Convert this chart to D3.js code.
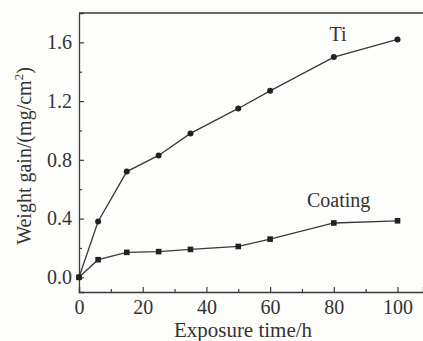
<!DOCTYPE html>
<html><head><meta charset="utf-8">
<script src="https://cdn.jsdelivr.net/npm/d3@7/dist/d3.min.js"></script>
<style>body{margin:0;background:#fdfdfc}svg{display:block}text{font-family:"Liberation Serif",serif}</style>
</head><body><svg id="c" width="423" height="341"></svg>
<script>
const hours = [0, 6, 15, 25, 35, 50, 60, 80, 100];
const tiGain = [0, 0.38, 0.72, 0.83, 0.98, 1.15, 1.27, 1.50, 1.62];
const coatingGain = [0, 0.12, 0.17, 0.175, 0.19, 0.21, 0.26, 0.37, 0.385];
const xTicks = [0, 20, 40, 60, 80, 100];
const yTicks = [0.0, 0.4, 0.8, 1.2, 1.6];
const yTickLabels = ["0.0", "0.4", "0.8", "1.2", "1.6"];

const svg = d3.select("#c");
const ink = "#3a3a3a", txt = "#333";
const fs = "20px";
const x = d3.scaleLinear().domain([0, 108]).range([79, 423]);
const y = d3.scaleLinear().domain([-0.1, 1.8]).range([292, 13]);

svg.append("line").attr("x1", 79).attr("x2", 423).attr("y1", 13).attr("y2", 13).attr("stroke", ink).attr("stroke-width", 1.3);

const xAxis = svg.append("g").attr("transform", "translate(0,292)")
  .call(d3.axisBottom(x).tickValues(xTicks).tickSize(-5).tickPadding(8).tickFormat(d3.format("d")));
const xMinor = svg.append("g").attr("transform", "translate(0,292)")
  .call(d3.axisBottom(x).tickValues([10, 30, 50, 70, 90]).tickSize(-3).tickFormat(""));
const yAxis = svg.append("g").attr("transform", "translate(79,0)")
  .call(d3.axisLeft(y).tickValues(yTicks).tickSize(-5).tickPadding(7).tickFormat((d, i) => yTickLabels[i]));
const yMinor = svg.append("g").attr("transform", "translate(79,0)")
  .call(d3.axisLeft(y).tickValues([0.2, 0.6, 1.0, 1.4]).tickSize(-3).tickFormat(""));
[xAxis, xMinor, yAxis, yMinor].forEach(g => {
  g.attr("font-family", null).attr("font-size", null);
  g.select(".domain").attr("stroke", ink).attr("stroke-width", 1.3);
  g.selectAll(".tick line").attr("stroke", ink).attr("stroke-width", 1.2);
  g.selectAll("text").attr("fill", txt).style("font-size", fs);
});
xMinor.select(".domain").remove();
yMinor.select(".domain").remove();

const line = d3.line().x(d => x(d[0])).y(d => y(d[1]));
const tiPts = hours.map((h, i) => [h, tiGain[i]]);
const coPts = hours.map((h, i) => [h, coatingGain[i]]);

svg.append("path").datum(tiPts).attr("d", line).attr("fill", "none").attr("stroke", ink).attr("stroke-width", 1.3);
svg.append("path").datum(coPts).attr("d", line).attr("fill", "none").attr("stroke", ink).attr("stroke-width", 1.3);

svg.selectAll(".ti").data(tiPts).enter().append("circle")
  .attr("cx", d => x(d[0])).attr("cy", d => y(d[1])).attr("r", 3).attr("fill", "#222");
svg.selectAll(".co").data(coPts).enter().append("rect")
  .attr("x", d => x(d[0]) - 2.8).attr("y", d => y(d[1]) - 2.8).attr("width", 5.6).attr("height", 5.6).attr("fill", "#222");

svg.append("text").attr("x", 338).attr("y", 41).attr("text-anchor", "middle")
  .attr("fill", txt).style("font-size", fs).text("Ti");
svg.append("text").attr("x", 307).attr("y", 207)
  .attr("fill", txt).style("font-size", fs).text("Coating");

svg.append("text").attr("x", 243).attr("y", 337).attr("text-anchor", "middle")
  .attr("fill", txt).style("font-size", "21px").text("Exposure time/h");

const yl = svg.append("text").attr("transform", "translate(31,156) rotate(-90)").attr("text-anchor", "middle")
  .attr("fill", txt).style("font-size", fs);
yl.append("tspan").text("Weight gain/(mg/cm");
yl.append("tspan").attr("dy", -8).style("font-size", "13px").text("2");
yl.append("tspan").attr("dy", 8).text(")");
</script></body></html>
